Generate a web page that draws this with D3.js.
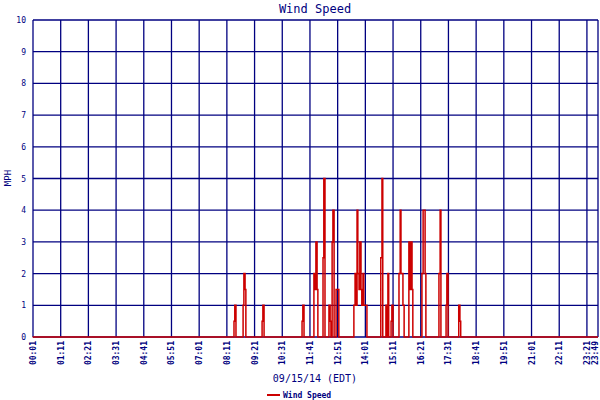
<!DOCTYPE html>
<html><head><meta charset="utf-8">
<script src="https://cdn.jsdelivr.net/npm/d3@7"></script>
<style>body{margin:0;background:#fff}</style>
</head><body>
<svg id="c" width="600" height="400"></svg>
<script>
// minutes since midnight
const times = [0,509,511,514,532,534,537,539,580,582,585,681,683,686,711,714,716,719,721,734,736,739,749,752,754,757,759,762,767,772,774,812,815,817,820,822,825,827,830,832,835,837,845,880,883,885,893,895,898,900,906,908,911,926,929,931,936,939,951,954,956,959,961,984,987,989,992,994,1027,1030,1032,1045,1047,1050,1077,1080,1082,1429];
const speeds = [0,0.5,1,0,1,2,1.5,0,0.5,1,0,0.5,1,0,2,1.5,3,1.5,0,2.5,5,0,1,0.5,0,3,4,0,1.5,1.5,0,1,2,1,4,2,1.5,3,1.5,1,2,1,0,2.5,5,0,1,0,2,0,0.5,1,0,2,4,2,1,0,3,1.5,3,1.5,0,2,4,4,2,0,2,4,0,1,2,0,1,0.5,0,0];
const tickMinutes = [1,71,141,211,281,351,421,491,561,631,701,771,841,911,981,1051,1121,1191,1261,1331,1401,1429];
const yTicks = [0,1,2,3,4,5,6,7,8,9,10];
const title = "Wind Speed", xTitle = "09/15/14 (EDT)", yTitle = "MPH";

const svg = d3.select("#c");
const L=33,R=598,T=20,B=337;
const x = d3.scaleLinear().domain([1,1429]).range([L,R]);
const y = d3.scaleLinear().domain([0,10]).range([B,T]);
const navy="#000080", red="#cc0000", font="DejaVu Sans Mono, monospace";
const fmt = m => String(Math.floor(m/60)).padStart(2,"0")+":"+String(m%60).padStart(2,"0");

svg.append("g").selectAll("line").data(yTicks).join("line")
  .attr("x1",L).attr("x2",R).attr("y1",d=>y(d)).attr("y2",d=>y(d))
  .attr("stroke",navy).attr("stroke-width",1.3);
svg.append("g").selectAll("line").data(tickMinutes).join("line")
  .attr("x1",d=>x(d)).attr("x2",d=>x(d)).attr("y1",T).attr("y2",B)
  .attr("stroke",navy).attr("stroke-width",1.3);

svg.append("g").selectAll("text").data(yTicks).join("text")
  .attr("x",26).attr("y",d=>y(d)+3).attr("text-anchor","end")
  .attr("font-family",font).attr("font-size",8).attr("fill",navy).text(d=>d);
svg.append("g").selectAll("text").data(tickMinutes).join("text")
  .attr("transform",d=>`translate(${Math.min(x(d)+3,598)},${B+4}) rotate(-90)`)
  .attr("text-anchor","end").attr("font-family",font).attr("font-size",8)
  .attr("font-weight","bold").attr("fill",navy).text(d=>fmt(d));

const pts = times.map((t,i)=>[t,speeds[i]]);
svg.append("path").datum(pts)
  .attr("d",d3.line().x(d=>x(d[0])).y(d=>y(d[1])).curve(d3.curveStepAfter))
  .attr("fill","none").attr("stroke",red).attr("stroke-width",1.5);

svg.append("text").attr("x",315).attr("y",13).attr("text-anchor","middle")
  .attr("font-family",font).attr("font-size",12).attr("fill",navy).text(title);
svg.append("text").attr("x",315).attr("y",382).attr("text-anchor","middle")
  .attr("font-family",font).attr("font-size",10).attr("fill",navy).text(xTitle);
svg.append("text").attr("transform","translate(11,178) rotate(-90)").attr("text-anchor","middle")
  .attr("font-family",font).attr("font-size",9).attr("fill",navy).text(yTitle);
svg.append("line").attr("x1",267).attr("x2",280).attr("y1",395).attr("y2",395)
  .attr("stroke",red).attr("stroke-width",2);
svg.append("text").attr("x",283).attr("y",398).attr("font-family",font)
  .attr("font-size",8).attr("font-weight","bold").attr("fill",navy).text("Wind Speed");
</script>
</body></html>
